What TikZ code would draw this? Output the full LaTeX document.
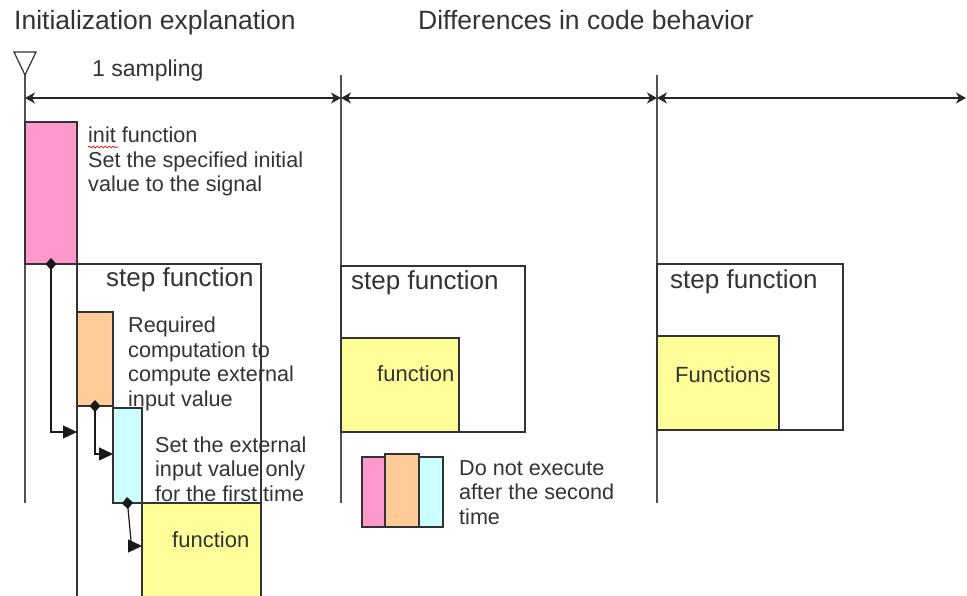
\documentclass[tikz,border=0pt]{standalone}
\usepackage{fontspec}
\setmainfont{Liberation Sans}
\usetikzlibrary{arrows.meta,decorations.pathmorphing}
\definecolor{initpink}{HTML}{FF99CC}
\definecolor{calcorange}{HTML}{FFCC99}
\definecolor{extcyan}{HTML}{CCFFFF}
\definecolor{fnyellow}{HTML}{FFFF99}
\definecolor{ink}{HTML}{333333}

\begin{document}
\begin{tikzpicture}[x=1pt, y=-1pt,
  bx/.style={draw=ink, line width=1.3pt, inner sep=0pt, outer sep=0pt, anchor=north west},
  txt/.style={inner sep=0pt, anchor=base west, align=left, text=ink, font=\fontsize{21.6}{24.5}\selectfont},
  big/.style={txt, font=\fontsize{26}{30}\selectfont},
  tl/.style={draw=ink!85, line width=1.4pt},
  dim/.style={{Stealth[length=10pt,width=11pt,inset=3pt]}-{Stealth[length=10pt,width=11pt,inset=3pt]},
              line width=1.2pt, draw=black!85},
  fl/.style={{Diamond[length=12pt,width=11pt]}-{Triangle[length=14pt,width=13pt]},
             shorten <=-6pt, line width=1.2pt, draw=black!90}]
\clip (0,0) rectangle (967,596);

% headings
\node[txt, font=\fontsize{26.5}{31}\selectfont] (hdInit) at (14,30) {Initialization explanation};
\node[txt, font=\fontsize{26.5}{31}\selectfont] (hdDiff) at (418,30) {Differences in code behavior};

% time lines and sampling ticks
\foreach \n/\x in {t0/25,t1/341,t2/657} {
  \coordinate (\n) at (\x,75);
  \draw[tl] (\n) -- ++(0,428);
}
\draw[ink, line width=1.2pt] (t0) -- ++(-11,-23) -- ++(22,0) -- cycle;
\node[txt, font=\fontsize{23}{28}\selectfont] (smp) at (92,77) {1 sampling};
\foreach \n/\x in {d0/25,d1/341,d2/657,d3/966}
  \coordinate (\n) at (\x,98);
\foreach \a/\b in {d0/d1,d1/d2,d2/d3}
  \draw[dim] (\a) -- (\b);

% blocks
\foreach \n/\c/\x/\y/\w/\h in
  {init/initpink/25/122/52/142, stepA/white/77/264/184/340,
   reqA/calcorange/77/312/36/94, extA/extcyan/113/408/29/95, funA/fnyellow/142/503/119/100,
   stepB/white/341/266/184/166, funB/fnyellow/341/338/118/94,
   stepC/white/657/264/186/166, funC/fnyellow/657/336/122/94,
   legP/initpink/362/457/23/70, legC/extcyan/419/457/24/70, legO/calcorange/385/454/34/73}
  \node[bx, fill=\c, minimum width=\w pt, minimum height=\h pt] (\n) at (\x,\y) {};

% flow
\draw[fl] (init.south) |- (stepA.west |- 0,432);
\draw[fl] (reqA.south) |- (extA.west |- 0,454);
\draw[fl] (extA.south) -- ++(4,43) -- (funA.west |- 0,546);

% labels (base = last line)
\node[txt] (initTx) at (88,192) {init function\\Set the specified initial\\value to the signal};
\draw[red, line width=0.7pt, decorate, decoration={snake, amplitude=0.9pt, segment length=4pt}]
  (88,147) -- (118,147);
\node[big] (stepATx) at (106,287) {step function};
\node[txt] (reqTx) at (128,406) {Required\\computation to\\compute external\\input value};
\node[txt] (extTx) at (155,501) {Set the external\\input value only\\for the first time};
\node[txt, font=\fontsize{22}{26}\selectfont] (funATx) at (172,547) {function};
\node[big] (stepBTx) at (351,290) {step function};
\node[txt, font=\fontsize{22}{26}\selectfont] (funBTx) at (377,381) {function};
\node[txt] (legTx) at (459,524) {Do not execute\\after the second\\time};
\node[big] (stepCTx) at (670,289) {step function};
\node[txt, font=\fontsize{22}{26}\selectfont] (funCTx) at (675,382) {Functions};
\end{tikzpicture}
\end{document}
